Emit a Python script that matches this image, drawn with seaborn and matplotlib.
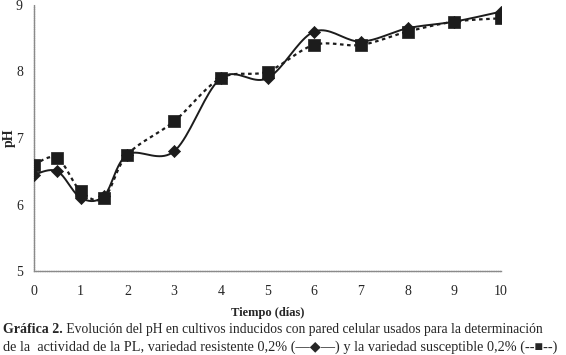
import numpy as np
import pandas as pd
import matplotlib
matplotlib.use('Agg')
import matplotlib.pyplot as plt
import seaborn as sns

# data
dias = [0, 0.5, 1, 1.5, 2, 3, 4, 5, 6, 7, 8, 9, 10]
ph_resistente = [6.45, 6.50, 6.10, 6.13, 6.75, 6.80, 7.90, 7.90, 8.60, 8.45, 8.65, 8.75, 8.90]
ph_susceptible = [6.60, 6.70, 6.20, 6.10, 6.75, 7.25, 7.90, 8.00, 8.40, 8.40, 8.60, 8.75, 8.80]
x_ticks = list(range(0, 11))
y_ticks = [5, 6, 7, 8, 9]


def smooth(x, y, sx=46.7, sy=66.5, n=20):
    # Excel-like smoothed line (Catmull-Rom in screen units)
    p = np.column_stack([np.asarray(x) * sx, np.asarray(y) * sy])
    p = np.vstack([p[0], p, p[-1]])
    out = []
    t = np.linspace(0, 1, n, endpoint=False)[:, None]
    for i in range(1, len(p) - 2):
        p0, p1, p2, p3 = p[i - 1], p[i], p[i + 1], p[i + 2]
        seg = 0.5 * ((2 * p1) + (-p0 + p2) * t + (2 * p0 - 5 * p1 + 4 * p2 - p3) * t ** 2
                     + (-p0 + 3 * p1 - 3 * p2 + p3) * t ** 3)
        out.append(seg)
    out.append(p[-2][None, :])
    out = np.vstack(out)
    return out[:, 0] / sx, out[:, 1] / sy


sns.set_style('white')
plt.rcParams['font.family'] = ['Liberation Serif', 'DejaVu Sans']

fig = plt.figure(figsize=(5.66, 3.55), dpi=100)
ax = fig.add_axes([34 / 566, 1 - 271 / 355, (501 - 34) / 566, (271 - 5) / 355])

dark = '#1c1c1c'
sx_, sy_ = smooth(dias, ph_susceptible)
rx_, ry_ = smooth(dias, ph_resistente)
curve_s = pd.DataFrame({'x': sx_, 'y': sy_})
curve_r = pd.DataFrame({'x': rx_, 'y': ry_})
sns.lineplot(data=curve_s, x='x', y='y', sort=False, estimator=None, ax=ax,
             color=dark, lw=1.6, linestyle=(0, (1.6, 1.6)))
sns.lineplot(data=curve_r, x='x', y='y', sort=False, estimator=None, ax=ax,
             color=dark, lw=1.4)
sns.scatterplot(x=dias, y=ph_resistente, marker='D', s=38, color=dark,
                edgecolor=dark, linewidth=0.5, ax=ax, zorder=3)
sns.scatterplot(x=dias, y=ph_susceptible, marker='s', s=70, color=dark,
                edgecolor=dark, linewidth=0.5, ax=ax, zorder=4)

ax.set_xlim(0, 10)
ax.set_ylim(5, 9)
ax.set_xticks(x_ticks)
ax.set_yticks(y_ticks)
ax.set_xticklabels([str(v) for v in x_ticks])
ax.set_yticklabels([str(v) for v in y_ticks])
for s in ['top', 'right']:
    ax.spines[s].set_visible(False)
for s in ['left', 'bottom']:
    ax.spines[s].set_color('#8a8a8a')
    ax.spines[s].set_linewidth(1.0)
    ax.spines[s].set_linestyle((0, (1, 0.6)))
ax.tick_params(axis='x', direction='in', length=4, color='#555555', labelsize=10, pad=10)
ax.tick_params(axis='y', direction='out', length=4, color='#555555', labelsize=10, pad=4)
ax.set_xlabel('Tiempo (días)', fontsize=9, fontweight='bold')
ax.set_ylabel('pH', fontsize=10, fontweight='bold')
ax.xaxis.set_label_coords(0.5, -36 / 266)
ax.yaxis.set_label_coords(-18 / 467, 0.5)
ax.set_facecolor('white')

t1 = fig.text(3 / 566, 1 - 333 / 355, 'Gráfica 2.', fontsize=10, fontweight='bold',
              ha='left', va='baseline')
ax.annotate(' Evolución del pH en cultivos inducidos con pared celular usados para la determinación',
            xy=(1, 0), xycoords=t1, fontsize=9.8, ha='left', va='bottom')
fig.text(3 / 566, 1 - 351 / 355,
         'de la  actividad de la PL, variedad resistente 0,2% (—◆—) y la variedad susceptible 0,2% (--■--)',
         fontsize=10.3, ha='left', va='baseline')

fig.savefig('out.png', dpi=100, facecolor='white')
